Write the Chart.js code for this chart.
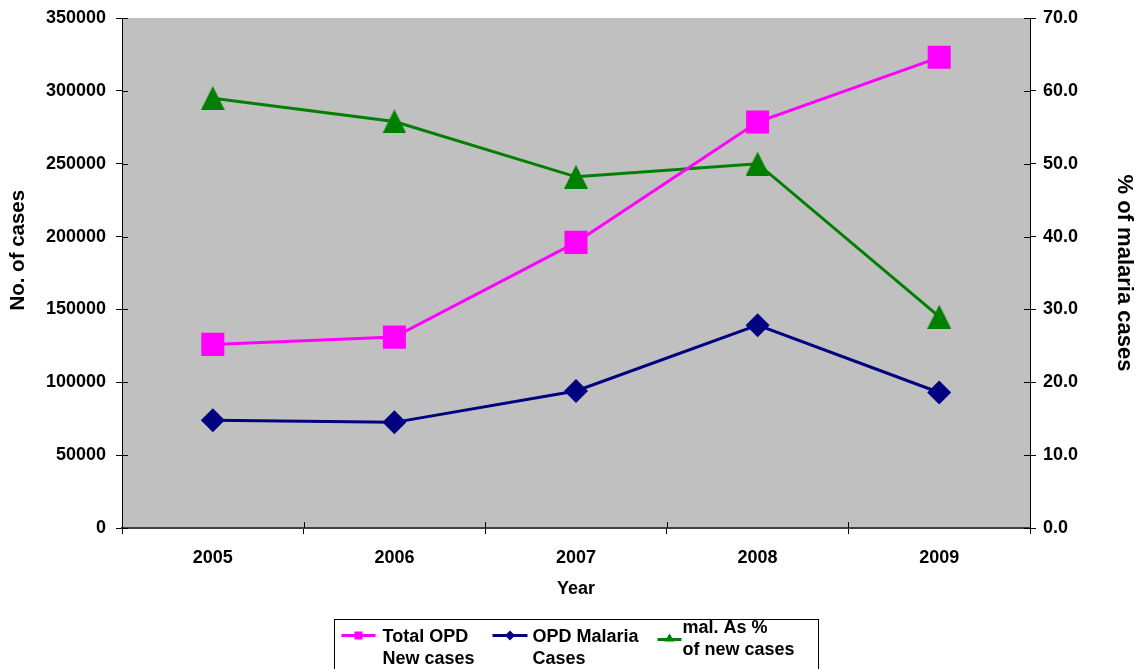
<!DOCTYPE html>
<html>
<head>
<meta charset="utf-8">
<script src="https://cdn.jsdelivr.net/npm/chart.js@4/dist/chart.umd.min.js"></script>
<style>
  html, body { margin: 0; padding: 0; background: #fff; overflow: hidden; }
  canvas { display: block; }
</style>
</head>
<body>
<canvas id="chart" width="1137" height="669"></canvas>
<script>
// OPD attendance and malaria burden, 2005-2009
const years = ['2005', '2006', '2007', '2008', '2009'];
const totalOpdNewCases = [126000, 131000, 196000, 278600, 323000];
const opdMalariaCases = [74000, 72500, 94000, 139200, 93000];
const malariaPercentOfNew = [59.0, 55.8, 48.2, 50.0, 29.0];

const seriesLabels = [
  ['Total OPD', 'New cases'],
  ['OPD Malaria', 'Cases'],
  ['mal. As %', 'of new cases']
];
const seriesColors = ['#FF00FF', '#000080', '#008000'];

const casesAxis = { min: 0, max: 350000, step: 50000, title: '        No. of cases' };
const percentAxis = { min: 0, max: 70, step: 10, title: '% of malaria cases' };
const xAxisTitle = 'Year';

const ARIAL = '"Liberation Sans", Arial, Helvetica, sans-serif';

// Upright triangle marker, centred on the data point
function triangleMarker(w, h, color) {
  const c = document.createElement('canvas');
  c.width = w; c.height = h;
  const g = c.getContext('2d');
  g.fillStyle = color;
  g.beginPath();
  g.moveTo(w / 2, 0);
  g.lineTo(w, h);
  g.lineTo(0, h);
  g.closePath();
  g.fill();
  return c;
}

// Grey plot area behind the series
const plotBackground = {
  id: 'plotBackground',
  beforeDraw(chart) {
    const { ctx, chartArea: a } = chart;
    ctx.save();
    ctx.fillStyle = '#C0C0C0';
    ctx.fillRect(a.left, a.top, a.right - a.left, a.bottom - a.top);
    ctx.restore();
  }
};

// Inner half of the tick marks so they cross the axis lines
const crossTicks = {
  id: 'crossTicks',
  beforeDatasetsDraw(chart) {
    const { ctx, chartArea: a, scales } = chart;
    const len = 6;
    ctx.save();
    ctx.strokeStyle = '#000';
    ctx.lineWidth = 1;
    ctx.beginPath();
    scales.y.ticks.forEach((t, i) => {
      const p = Math.round(scales.y.getPixelForTick(i)) + 0.5;
      ctx.moveTo(a.left, p); ctx.lineTo(a.left + len, p);
    });
    scales.y1.ticks.forEach((t, i) => {
      const p = Math.round(scales.y1.getPixelForTick(i)) + 0.5;
      ctx.moveTo(a.right - len, p); ctx.lineTo(a.right, p);
    });
    const n = scales.x.ticks.length;
    const step = (a.right - a.left) / n;
    for (let i = 0; i <= n; i++) {
      const p = Math.round(a.left + i * step) + 0.5;
      ctx.moveTo(p, a.bottom - len); ctx.lineTo(p, a.bottom);
    }
    ctx.stroke();
    ctx.restore();
  }
};

// Boxed legend under the axis title: line sample with marker, two-line label
const boxedLegend = {
  id: 'boxedLegend',
  afterDraw(chart) {
    const { ctx, chartArea: a } = chart;
    const boxW = 484, boxH = 60;
    const L = Math.round((a.left + a.right) / 2 - boxW / 2) + 0.5;
    const T = 619.5;
    ctx.save();
    ctx.fillStyle = '#fff';
    ctx.fillRect(L, T, boxW, boxH);
    ctx.strokeStyle = '#000';
    ctx.lineWidth = 1;
    ctx.strokeRect(L, T, boxW, boxH);

    const layout = [
      { x: 7, len: 34, lineY: 16, textX: 48, rows: [17.5, 40], marker: 'rect' },
      { x: 158, len: 35, lineY: 16, textX: 198, rows: [17.5, 40], marker: 'diamond' },
      { x: 323, len: 24, lineY: 20, textX: 348, rows: [9, 31], marker: 'triangle' }
    ];
    ctx.font = 'bold 18px ' + ARIAL;
    ctx.textBaseline = 'middle';
    ctx.textAlign = 'left';
    chart.data.datasets.forEach((ds, i) => {
      const it = layout[i];
      const color = ds.borderColor;
      const x0 = L + it.x, y0 = T + it.lineY, xm = x0 + it.len / 2;
      ctx.strokeStyle = color;
      ctx.lineWidth = 3;
      ctx.beginPath();
      ctx.moveTo(x0, y0); ctx.lineTo(x0 + it.len, y0);
      ctx.stroke();
      ctx.fillStyle = color;
      ctx.beginPath();
      if (it.marker === 'rect') {
        ctx.rect(xm - 4, y0 - 4, 8, 8);
      } else if (it.marker === 'diamond') {
        ctx.moveTo(xm, y0 - 5); ctx.lineTo(xm + 5, y0);
        ctx.lineTo(xm, y0 + 5); ctx.lineTo(xm - 5, y0);
      } else {
        ctx.moveTo(xm, y0 - 6); ctx.lineTo(xm + 5, y0 + 2);
        ctx.lineTo(xm - 5, y0 + 2);
      }
      ctx.closePath();
      ctx.fill();
      ctx.fillStyle = '#000';
      seriesLabels[i].forEach((line, r) => {
        ctx.fillText(line, L + it.textX, T + it.rows[r]);
      });
    });
    ctx.restore();
  }
};

const tickFont = { family: ARIAL, size: 18, weight: 'bold' };

// Fixed axis box size; the end labels only need half their height of margin
function fixVerticalAxis(width) {
  return (scale) => {
    scale.width = width;
    scale.paddingTop = 11;
    scale.paddingBottom = 11;
  };
}

new Chart(document.getElementById('chart'), {
  type: 'line',
  data: {
    labels: years,
    datasets: [
      {
        label: seriesLabels[0].join(' '),
        data: totalOpdNewCases,
        yAxisID: 'y',
        borderColor: seriesColors[0],
        backgroundColor: seriesColors[0],
        borderWidth: 3,
        pointStyle: 'rect',
        pointRadius: 16.3,
        pointBorderWidth: 0,
        tension: 0
      },
      {
        label: seriesLabels[1].join(' '),
        data: opdMalariaCases,
        yAxisID: 'y',
        borderColor: seriesColors[1],
        backgroundColor: seriesColors[1],
        borderWidth: 3,
        pointStyle: 'rectRot',
        pointRadius: 12,
        pointBorderWidth: 0,
        tension: 0
      },
      {
        label: seriesLabels[2].join(' '),
        data: malariaPercentOfNew,
        yAxisID: 'y1',
        borderColor: seriesColors[2],
        backgroundColor: seriesColors[2],
        borderWidth: 3,
        pointStyle: triangleMarker(24, 24, seriesColors[2]),
        pointRadius: 12,
        tension: 0
      }
    ]
  },
  options: {
    responsive: false,
    animation: false,
    devicePixelRatio: 1,
    layout: { padding: { top: 18, left: 0, right: 0, bottom: 69 } },
    plugins: {
      legend: { display: false },
      tooltip: { enabled: false }
    },
    scales: {
      x: {
        offset: true,
        grid: { offset: true, drawOnChartArea: false, tickLength: 6, color: '#000' },
        border: { color: '#404040', width: 2 },
        ticks: { font: tickFont, color: '#000', padding: 13, maxRotation: 0 },
        title: { display: true, text: xAxisTitle, font: tickFont, color: '#000', padding: 0 },
        afterFit(scale) { scale.height = 72; }
      },
      y: {
        position: 'left',
        min: casesAxis.min,
        max: casesAxis.max,
        grid: { drawOnChartArea: false, tickLength: 6, color: '#000' },
        border: { color: '#000', width: 1 },
        ticks: {
          stepSize: casesAxis.step, font: tickFont, color: '#000', padding: 10,
          callback: (v) => String(v)
        },
        title: {
          display: true, text: casesAxis.title, color: '#000',
          font: { family: ARIAL, size: 20.5, weight: 'bold' },
          padding: { top: 6, bottom: 0 }
        },
        afterFit: fixVerticalAxis(122)
      },
      y1: {
        position: 'right',
        min: percentAxis.min,
        max: percentAxis.max,
        grid: { drawOnChartArea: false, tickLength: 6, color: '#000' },
        border: { color: '#000', width: 1 },
        ticks: {
          stepSize: percentAxis.step, font: tickFont, color: '#000', padding: 7,
          callback: (v) => Number(v).toFixed(1)
        },
        title: {
          display: true, text: percentAxis.title, color: '#000',
          font: { family: ARIAL, size: 22, weight: 'bold' },
          padding: { top: 0, bottom: 0 }
        },
        afterFit: fixVerticalAxis(107)
      }
    }
  },
  plugins: [plotBackground, crossTicks, boxedLegend]
});
</script>
</body>
</html>
